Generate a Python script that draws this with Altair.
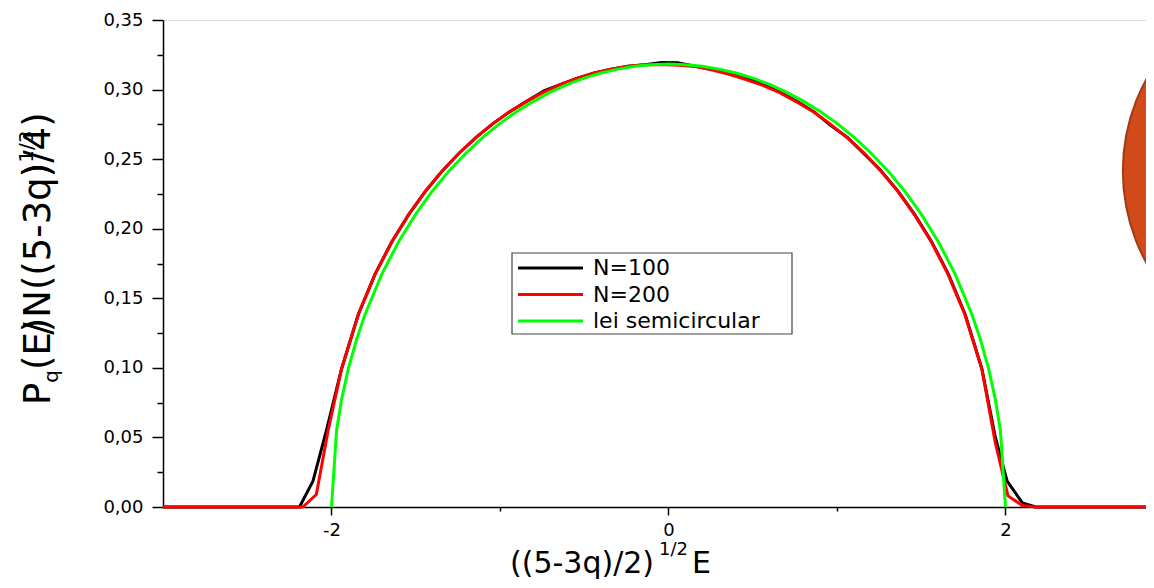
import altair as alt
import pandas as pd

# ---------------- data ----------------
series_labels = ["N=100", "N=200", "lei semicircular"]
series_colors = ["#000000", "#ff0000", "#00ff00"]

x_n100 = [-3.0, -2.19, -2.11, -2.03, -1.94, -1.84, -1.74, -1.64, -1.54, -1.44, -1.34, -1.24,
          -1.14, -1.04, -0.94, -0.84, -0.74, -0.64, -0.54, -0.44, -0.34, -0.24, -0.14, -0.04,
          0.06, 0.16, 0.26, 0.36, 0.46, 0.56, 0.66, 0.76, 0.86, 0.96, 1.06, 1.16, 1.26, 1.36,
          1.46, 1.56, 1.66, 1.76, 1.86, 1.94, 2.01, 2.10, 2.18, 2.87]
p_n100 = [0.0, 0.0, 0.0186, 0.055, 0.0994, 0.1387, 0.1677, 0.1910, 0.2105, 0.2273, 0.2419, 0.2546,
          0.2658, 0.2757, 0.2843, 0.2917, 0.2990, 0.3037, 0.3082, 0.3119, 0.3147, 0.3167, 0.3179, 0.3195,
          0.3192, 0.3167, 0.3147, 0.3119, 0.3082, 0.3037, 0.2982, 0.2917, 0.2843, 0.2745, 0.2658, 0.2540,
          0.2419, 0.2273, 0.2105, 0.1910, 0.1677, 0.1387, 0.0994, 0.0500, 0.0186, 0.0030, 0.0, 0.0]

x_n200 = [-3.0, -2.17, -2.09, -2.02, -1.94, -1.84, -1.74, -1.64, -1.54, -1.44, -1.34, -1.24,
          -1.14, -1.04, -0.94, -0.84, -0.74, -0.64, -0.54, -0.44, -0.34, -0.24, -0.14, -0.04,
          0.06, 0.16, 0.26, 0.36, 0.46, 0.56, 0.66, 0.76, 0.86, 0.96, 1.06, 1.16, 1.26, 1.36,
          1.46, 1.56, 1.66, 1.76, 1.86, 1.94, 2.015, 2.10, 2.18, 2.87]
p_n200 = [0.0, 0.0, 0.0090, 0.055, 0.0994, 0.1387, 0.1677, 0.1910, 0.2105, 0.2273, 0.2419, 0.2546,
          0.2658, 0.2757, 0.2843, 0.2917, 0.2982, 0.3037, 0.3082, 0.3119, 0.3147, 0.3167, 0.3179, 0.3180,
          0.3175, 0.3165, 0.3140, 0.3110, 0.3072, 0.3030, 0.2978, 0.2912, 0.2840, 0.2752, 0.2655, 0.2546,
          0.2415, 0.2270, 0.2100, 0.1905, 0.1670, 0.1380, 0.0990, 0.0460, 0.0080, 0.0010, 0.0, 0.0]

x_semi = [-2.0, -1.97, -1.94, -1.9, -1.85, -1.8, -1.7, -1.6, -1.5, -1.4, -1.3, -1.2, -1.1, -1.0,
          -0.9, -0.8, -0.7, -0.6, -0.5, -0.4, -0.3, -0.2, -0.1, 0.0, 0.1, 0.2, 0.3, 0.4, 0.5, 0.6,
          0.7, 0.8, 0.9, 1.0, 1.1, 1.2, 1.3, 1.4, 1.5, 1.6, 1.7, 1.8, 1.85, 1.9, 1.94, 1.97, 2.0]
p_semi = [0.0, 0.0549, 0.0774, 0.0994, 0.1209, 0.1387, 0.1677, 0.1910, 0.2105, 0.2273, 0.2419,
          0.2546, 0.2658, 0.2757, 0.2843, 0.2917, 0.2982, 0.3037, 0.3082, 0.3119, 0.3147, 0.3167,
          0.3179, 0.3183, 0.3179, 0.3167, 0.3147, 0.3119, 0.3082, 0.3037, 0.2982, 0.2917, 0.2843,
          0.2757, 0.2658, 0.2546, 0.2419, 0.2273, 0.2105, 0.1910, 0.1677, 0.1387, 0.1209, 0.0994,
          0.0774, 0.0549, 0.0]

y_ticks = [0.0, 0.025, 0.05, 0.075, 0.1, 0.125, 0.15, 0.175, 0.2, 0.225, 0.25, 0.275, 0.3, 0.325, 0.35]
x_ticks = [-2, -1, 0, 1, 2]
x_domain = [-3.0, 2.834]
y_domain = [0.0, 0.35]

# decorative orange disc at the right edge (data coordinates)
blob_x = [3.83]
blob_y = [0.2415]

# ---------------- chart ----------------
FONT = "DejaVu Sans"
major_y = "abs(datum.value*20 - round(datum.value*20)) < 0.001"
major_x = "datum.value % 2 == 0"

x_axis = alt.Axis(values=x_ticks, title=None, grid=False,
                  tickSize={"condition": {"test": major_x, "value": 8}, "value": 4},
                  labelExpr=f"{major_x} ? '' + datum.value : ''",
                  labelPadding=6, domainColor="black", domainWidth=1.5,
                  tickColor="black", tickWidth=1.5, labelFont=FONT, labelFontSize=18,
                  labelColor="black", labelOverlap=False, labelFlush=False)
y_axis = alt.Axis(values=y_ticks, title=None, grid=False,
                  tickSize={"condition": {"test": major_y, "value": 11}, "value": 6},
                  labelExpr=f"{major_y} ? replace(format(datum.value, '.2f'), '.', ',') : ''",
                  labelPadding=9, domainColor="black", domainWidth=1.5,
                  tickColor="black", tickWidth=1.5, labelFont=FONT, labelFontSize=18,
                  labelColor="black", labelOverlap=False, labelFlush=False)

xs = alt.Scale(domain=x_domain, nice=False, zero=False)
ys = alt.Scale(domain=y_domain, nice=False, zero=False)


def series_layer(xv, pv, color):
    df = pd.DataFrame({"x": xv, "p": pv})
    return alt.Chart(df).mark_line(color=color, strokeWidth=3, strokeJoin="round").encode(
        x=alt.X("x:Q", scale=xs, axis=x_axis),
        y=alt.Y("p:Q", scale=ys, axis=y_axis),
        order="x:Q",
    )


one = pd.DataFrame({"a": [0]})

blob = alt.Chart(pd.DataFrame({"x": blob_x, "p": blob_y})).mark_circle(
    size=145900, color="#d04a1a", stroke="#a23a12", strokeWidth=2, opacity=1
).encode(x=alt.X("x:Q", scale=xs, axis=x_axis), y=alt.Y("p:Q", scale=ys, axis=y_axis))


def txt(s, x, y, size, angle=0, align="left", baseline="alphabetic"):
    kw = dict(text=s, font=FONT, fontSize=size, align=align, baseline=baseline, color="black")
    if angle:
        kw["angle"] = angle
    return alt.Chart(one).mark_text(**kw).encode(x=alt.value(x), y=alt.value(y))


# legend (box, sample lines, labels)
legend_box = alt.Chart(one).mark_rect(fill="white", stroke="#444444", strokeWidth=1.2).encode(
    x=alt.value(349), x2=alt.value(629), y=alt.value(233), y2=alt.value(314))
legend_layers = [legend_box]
for i, (lab, col) in enumerate(zip(series_labels, series_colors)):
    ly = 248 + i * 26.5
    legend_layers.append(
        alt.Chart(one).mark_rule(color=col, strokeWidth=3).encode(
            x=alt.value(355), x2=alt.value(420), y=alt.value(ly)))
    legend_layers.append(txt(lab, 430, ly, 22, baseline="middle"))

# axis titles (with sub/superscripts)
x_title = [
    txt("((5-3q)/2)", 347, 553, 30),
    txt("1/2", 496, 535, 18),
    txt("E", 529, 553, 30),
]
F = 37
bx = 50 - 163
y0 = 385
yq = y0 - 0.603 * F
ym = yq - 12.7
y_title = [
    txt("P", bx, y0, F, angle=270),
    txt("q", bx + 8, yq, 20, angle=270),
    txt("(E)N((5-3q)", bx, ym, F, angle=270),
    txt("/", bx, ym - 0.95 * F, F, angle=270),
    txt(")/4)", bx, ym - 5.208 * F, F, angle=270),
    txt("1/3", bx - 17, ym - 5.6 * F, 20, angle=270),
]

layers = [blob,
          series_layer(x_n100, p_n100, series_colors[0]),
          series_layer(x_n200, p_n200, series_colors[1]),
          series_layer(x_semi, p_semi, series_colors[2])] + legend_layers + x_title + y_title

chart = alt.layer(*layers).properties(
    width=983, height=487,
    autosize=alt.AutoSizeParams(type="none"),
    padding={"left": 155, "top": 12, "right": 0, "bottom": 73},
).configure_view(stroke=None).configure(background="white")

chart.save("out.html", embed_options={"renderer": "svg", "actions": False})
